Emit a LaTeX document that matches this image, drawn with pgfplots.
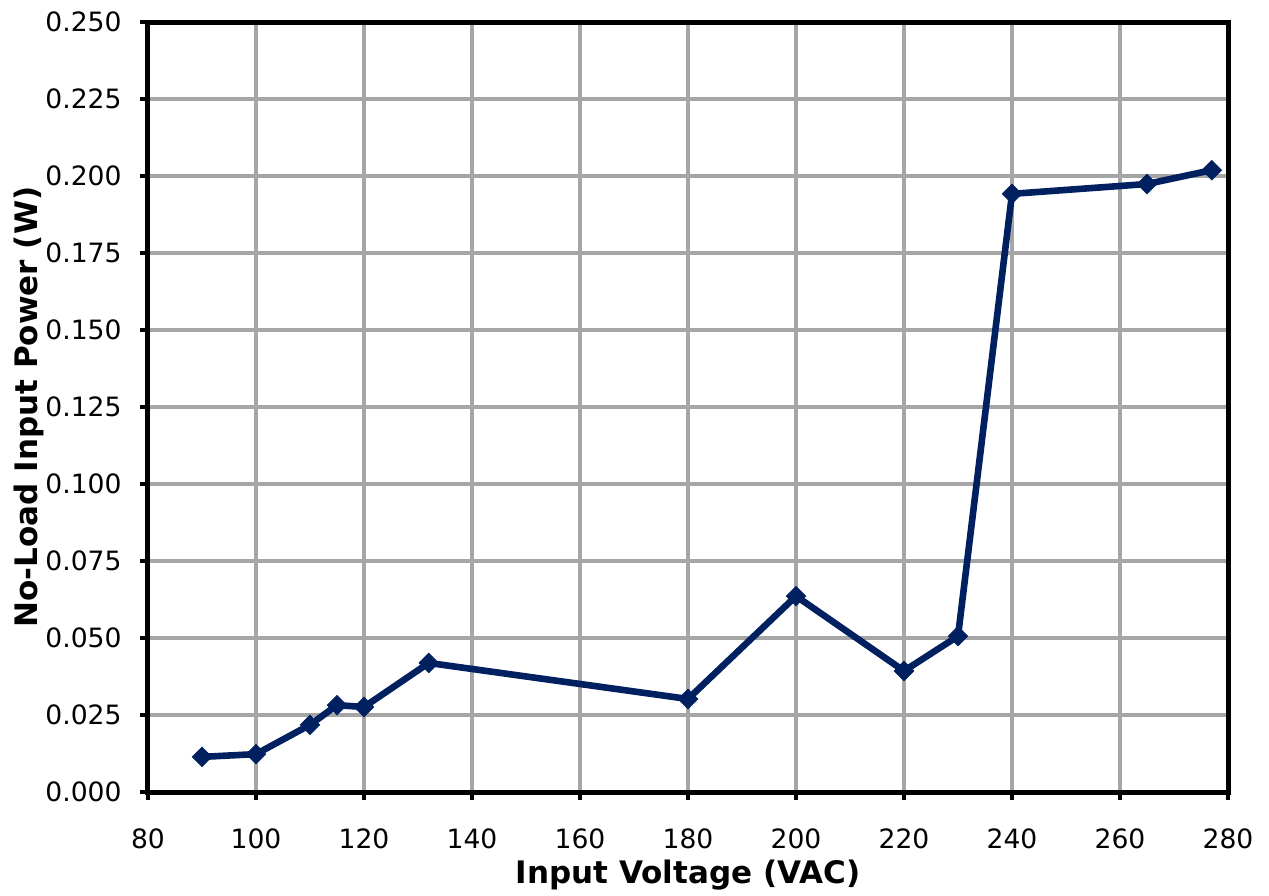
\documentclass[border=0pt]{standalone}
\usepackage{pgfplots}
\pgfplotsset{compat=1.18}
\usepackage{fontspec}
\setmainfont{DejaVu Sans}
\definecolor{navy}{HTML}{002060}
\definecolor{gridgray}{HTML}{A6A6A6}
\begin{document}
\begin{tikzpicture}
\begin{axis}[
    scale only axis,
    width=540pt,
    height=385pt,
    xmin=80, xmax=280,
    ymin=0, ymax=0.25,
    xtick={80,100,...,280},
    ytick={0,0.025,...,0.25},
    /pgf/number format/assume math mode=true,
    yticklabel style={/pgf/number format/fixed, /pgf/number format/fixed zerofill, /pgf/number format/precision=3},
    xticklabel style={/pgf/number format/fixed},
    tick label style={font=\fontsize{13.3}{16}\selectfont, inner sep=0pt},
    xticklabel style={anchor=center, yshift=-19.5pt},
    yticklabel style={anchor=east},
    yticklabel shift=9pt,
    label style={font=\bfseries\fontsize{15.5}{18}\selectfont},
    xlabel={Input Voltage (VAC)},
    ylabel={No-Load Input Power (W)},
    xlabel style={at={(axis description cs:0.5,-0.1078)}, anchor=center},
    ylabel style={at={(axis description cs:-0.1102,0.5)}, anchor=center},
    grid=major,
    major grid style={gridgray, line width=2pt},
    axis line style={black, line width=2.5pt},
    tick style={black, line width=2pt},
    tick align=outside,
    major tick length=4pt,
    xtick pos=bottom,
    ytick pos=left,
]
\addplot[navy, line width=3.3pt, mark=square*, mark size=3.4pt, mark options={fill=navy, line width=0.5pt, rotate=45}] coordinates {
    (90, 0.0114) (100, 0.0123) (110, 0.0218) (115, 0.0282) (120, 0.0276)
    (132, 0.0419) (180, 0.0302) (200, 0.0636) (220, 0.0393) (230, 0.0506)
    (240, 0.1942) (265, 0.1974) (277, 0.2019)
};
\coordinate (ll) at (rel axis cs:0,0);
\coordinate (ur) at (rel axis cs:1,1);
\end{axis}
\pgfresetboundingbox
\path ([shift={(-74pt,-51.5pt)}]ll) rectangle ([shift={(20.5pt,11pt)}]ur);
\end{tikzpicture}
\end{document}
